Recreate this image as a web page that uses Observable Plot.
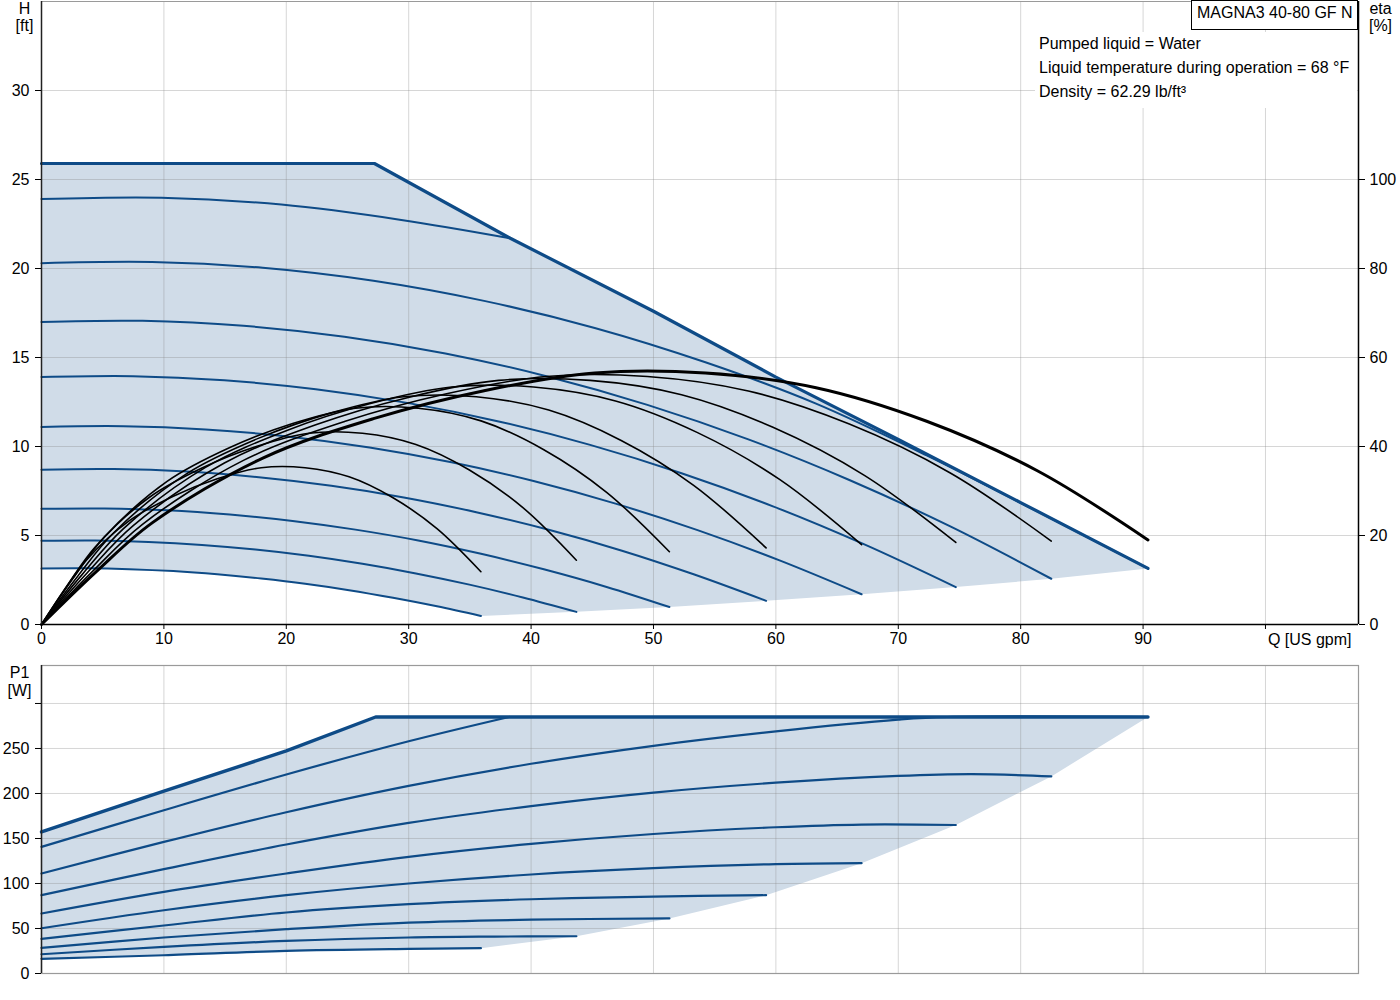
<!DOCTYPE html>
<html>
<head>
<meta charset="utf-8">
<script src="https://cdn.jsdelivr.net/npm/d3@7"></script>
<script src="https://cdn.jsdelivr.net/npm/@observablehq/plot@0.6"></script>
<style>
  body { margin: 0; background: #fff; }
  #wrap { position: relative; width: 1400px; height: 1000px; font-family: "Liberation Sans", Arial, sans-serif; color: #000; }
  #top, #bottom { position: absolute; left: 0; }
  #top { top: 0; }
  #bottom { top: 660px; }
  .box { position: absolute; background: #fff; font-size: 16px; white-space: nowrap; }
  #title { left: 1191px; top: 0; width: 160px; height: 28px; border: 1px solid #000; padding-left: 5px; line-height: 24px; }
  #info { left: 1035px; top: 32px; width: 318px; height: 76px; padding-left: 4px; line-height: 24px; }
</style>
</head>
<body>
<div id="wrap">
  <div id="top"></div>
  <div id="bottom"></div>
  <div class="box" id="title">MAGNA3 40-80 GF N</div>
  <div class="box" id="info">Pumped liquid = Water<br>Liquid temperature during operation = 68 °F<br>Density = 62.29 lb/ft³</div>
</div>
<script>
// ---------- axis ticks ----------
const qTicks = [0, 10, 20, 30, 40, 50, 60, 70, 80, 90, 100];
const qGrid = [10, 20, 30, 40, 50, 60, 70, 80, 90, 100];
const hTicks = [0, 5, 10, 15, 20, 25, 30];
const hGrid = [5, 10, 15, 20, 25, 30];
const etaTicks = [0, 20, 40, 60, 80, 100];
const pTicks = [0, 50, 100, 150, 200, 250, 300];
const pGrid = [50, 100, 150, 200, 250, 300];

// ---------- head curves H [ft] vs Q [US gpm] ----------
const hMax = [[0,25.9],[27.2,25.9],[38.3,21.7],[50,17.6],[60,13.9],[70,10.4],[80,6.85],[90.4,3.15]];
const h1 = [[0,23.9],[9.8,23.98],[19.6,23.59],[29.4,22.73],[38.3,21.7]];
const h2 = [[0,20.3],[9.04,20.37],[18.08,20.04],[27.12,19.31],[36.16,18.18],[45.2,16.66],[54.24,14.73],[63.28,12.41],[72.32,9.5],[81.36,6.35],[90.4,3.15]];
const h3 = [[0,17.0],[8.25,17.06],[16.5,16.78],[24.75,16.17],[33.0,15.23],[41.25,13.95],[49.5,12.34],[57.75,10.4],[66.0,8.12],[74.25,5.51],[82.5,2.57]];
const h4 = [[0,13.9],[7.47,13.95],[14.94,13.72],[22.41,13.22],[29.88,12.45],[37.35,11.41],[44.82,10.09],[52.29,8.5],[59.76,6.64],[67.23,4.5],[74.7,2.1]];
const h5 = [[0,11.1],[6.7,11.14],[13.4,10.96],[20.1,10.56],[26.8,9.94],[33.5,9.11],[40.2,8.06],[46.9,6.79],[53.6,5.3],[60.3,3.6],[67.0,1.7]];
const h6 = [[0,8.7],[5.92,8.73],[11.84,8.59],[17.76,8.27],[23.68,7.79],[29.6,7.14],[35.52,6.31],[41.44,5.32],[47.36,4.16],[53.28,2.82],[59.2,1.33]];
const h7 = [[0,6.5],[5.13,6.52],[10.26,6.42],[15.39,6.18],[20.52,5.82],[25.65,5.33],[30.78,4.72],[35.91,3.97],[41.04,3.1],[46.17,2.11],[51.3,0.98]];
const h8 = [[0,4.7],[4.37,4.72],[8.74,4.64],[13.11,4.47],[17.48,4.21],[21.85,3.86],[26.22,3.41],[30.59,2.87],[34.96,2.24],[39.33,1.52],[43.7,0.71]];
const h9 = [[0,3.15],[3.59,3.16],[7.18,3.11],[10.77,3.0],[14.36,2.82],[17.95,2.58],[21.54,2.29],[25.13,1.93],[28.72,1.5],[32.31,1.02],[35.9,0.48]];

// ---------- efficiency curves eta [%] vs Q ----------
const e2 = [[0,0],[4.52,11.99],[9.04,22.84],[18.08,37.4],[27.12,46.25],[36.16,52.53],[45.2,56.53],[54.24,56.53],[63.28,53.22],[72.32,45.68],[81.36,34.55],[90.4,19.01]];
const e3 = [[0,0],[4.13,11.82],[8.25,22.52],[16.5,36.88],[24.75,45.6],[33.0,51.8],[41.25,55.74],[49.5,55.74],[57.75,52.47],[66.0,45.04],[74.25,34.06],[82.5,18.75]];
const e4 = [[0,0],[3.74,11.63],[7.47,22.16],[14.94,36.29],[22.41,44.87],[29.88,50.97],[37.35,54.85],[44.82,54.85],[52.29,51.63],[59.76,44.32],[67.23,33.52],[74.7,18.45]];
const e5 = [[0,0],[3.35,11.32],[6.7,21.56],[13.4,35.3],[20.1,43.66],[26.8,49.59],[33.5,53.36],[40.2,53.36],[46.9,50.23],[53.6,43.12],[60.3,32.61],[67.0,17.95]];
const e6 = [[0,0],[2.96,10.86],[5.92,20.68],[11.84,33.86],[17.76,41.88],[23.68,47.56],[29.6,51.18],[35.52,51.18],[41.44,48.18],[47.36,41.36],[53.28,31.28],[59.2,17.22]];
const e7 = [[0,0],[2.57,10.31],[5.13,19.64],[10.26,32.16],[15.39,39.77],[20.52,45.17],[25.65,48.61],[30.78,48.61],[35.91,45.76],[41.04,39.28],[46.17,29.71],[51.3,16.35]];
const e8 = [[0,0],[2.19,9.11],[4.37,17.36],[8.74,28.43],[13.11,35.15],[17.48,39.93],[21.85,42.97],[26.22,42.97],[30.59,40.45],[34.96,34.72],[39.33,26.26],[43.7,14.45]];
const e9 = [[0,0],[1.8,7.48],[3.59,14.24],[7.18,23.32],[10.77,28.84],[14.36,32.75],[17.95,35.24],[21.54,35.24],[25.13,33.18],[28.72,28.48],[32.31,21.54],[35.9,11.85]];

// ---------- power curves P1 [W] vs Q ----------
const pMax = [[0,157.3],[10,202.6],[20,247.3],[27.3,285],[90.4,285]];
const p1 = [[0,140.7],[10,181.4],[20,221.1],[30,258],[38.2,285]];
const p2 = [[0,111.1],[10,146.2],[20,179.2],[30,208.5],[40,233],[50,253],[60,269],[70,282],[74,285],[90.4,285]];
const p3 = [[0,87],[10,115.9],[20,143.3],[30,167.3],[40,186],[50,201],[60,212],[70,219.5],[76,221.5],[82.5,219]];
const p4 = [[0,66.7],[10,90.7],[20,111.1],[30,129.6],[40,144],[50,155],[60,162.5],[67,165.5],[74.7,165]];
const p5 = [[0,50.3],[10,70.3],[20,87],[30,100],[40,110],[50,117],[60,121.5],[67,122.6]];
const p6 = [[0,38.5],[10,53.3],[20,67.8],[30,77],[40,82.5],[50,85.5],[59.2,87]];
const p7 = [[0,28.5],[10,40],[20,49.2],[30,56.5],[40,59.8],[51.3,61.2]];
const p8 = [[0,21.4],[10,29.6],[20,36.2],[30,40],[37,41],[43.7,41.4]];
const p9 = [[0,16.3],[10,20.3],[20,25.1],[30,27.3],[35.9,28.1]];

// ---------- derived ----------
const last = c => c[c.length - 1];
const hArea = [...hMax, ...[h3, h4, h5, h6, h7, h8].map(last), ...h9.slice().reverse()];
const pArea = [...pMax, ...[p3, p4, p5, p6, p7, p8].map(last), ...p9.slice().reverse()];
const hCurves = [h1, h2, h3, h4, h5, h6, h7, h8, h9];
const eCurves = [e3, e4, e5, e6, e7, e8, e9];
const pCurves = [p1, p2, p3, p4, p5, p6, p7, p8, p9];

const BLUE = "#0e4b87";
const SHADE = "#d0dce8";
const GRID = "#8a8a8a";
const FONT = "'Liberation Sans', Arial, sans-serif";
const X = d => d[0];
const Y = d => d[1];
const ETA = d => d[1] / 4;   // eta 100 % <-> 25 ft on the shared y scale
const xDomain = [0, 107.6];
const label = (t, anchor, dx, dy, textAnchor = "middle") =>
  Plot.text([t], {text: d => d, frameAnchor: anchor, dx, dy, textAnchor, lineAnchor: "middle"});

const topPlot = Plot.plot({
  width: 1400, height: 661,
  marginLeft: 41, marginRight: 42, marginTop: 1, marginBottom: 37,
  x: {domain: xDomain},
  y: {domain: [0, 35]},
  style: {fontFamily: FONT, fontSize: "16px", color: "#000", background: "transparent", overflow: "visible"},
  marks: [
    Plot.line(hArea, {x: X, y: Y, fill: SHADE, stroke: "none", curve: "linear"}),
    Plot.gridX(qGrid, {stroke: GRID, strokeOpacity: 0.35}),
    Plot.gridY(hGrid, {stroke: GRID, strokeOpacity: 0.35}),
    Plot.ruleY([35], {stroke: "#9a9a9a", strokeWidth: 1}),
    ...hCurves.map(c => Plot.line(c, {x: X, y: Y, stroke: BLUE, strokeWidth: 2, curve: "catmull-rom"})),
    Plot.line(hMax, {x: X, y: Y, stroke: BLUE, strokeWidth: 3.2, curve: "linear"}),
    ...eCurves.map(c => Plot.line(c, {x: X, y: ETA, stroke: "#000", strokeWidth: 1.6, curve: "catmull-rom"})),
    Plot.line(e2, {x: X, y: ETA, stroke: "#000", strokeWidth: 3, curve: "catmull-rom"}),
    Plot.ruleX([0], {stroke: "#222", strokeWidth: 1.5}),
    Plot.ruleX([xDomain[1]], {stroke: "#000", strokeWidth: 1.5}),
    Plot.ruleY([0], {stroke: "#000", strokeWidth: 1.5}),
    Plot.axisX({ticks: qTicks, tickFormat: d => d === 100 ? "" : d, tickSize: 5, tickPadding: 3, label: null, anchor: "bottom"}),
    Plot.axisY({ticks: hTicks, tickSize: 6, tickPadding: 6, label: null, anchor: "left"}),
    Plot.axisY({ticks: etaTicks.map(e => e / 4), tickFormat: d => d * 4, tickSize: 6, tickPadding: 5, label: null, anchor: "right"}),
    label("H", "top-left", -17, 7),
    label("[ft]", "top-left", -17, 24),
    label("eta", "top-right", 22, 7),
    label("[%]", "top-right", 22, 24),
    label("Q [US gpm]", "bottom-right", -7, 15, "end")
  ]
});
document.getElementById("top").appendChild(topPlot);

const bottomPlot = Plot.plot({
  width: 1400, height: 340,
  marginLeft: 41, marginRight: 42, marginTop: 5, marginBottom: 27,
  x: {domain: xDomain, axis: null},
  y: {domain: [0, 342.2]},
  style: {fontFamily: FONT, fontSize: "16px", color: "#000", background: "transparent", overflow: "visible"},
  marks: [
    Plot.line(pArea, {x: X, y: Y, fill: SHADE, stroke: "none", curve: "linear"}),
    Plot.gridX(qGrid, {stroke: GRID, strokeOpacity: 0.35}),
    Plot.gridY(pGrid, {stroke: GRID, strokeOpacity: 0.35}),
    Plot.frame({stroke: "#9a9a9a", strokeWidth: 1.2}),
    ...pCurves.map(c => Plot.line(c, {x: X, y: Y, stroke: BLUE, strokeWidth: 2.2, curve: "catmull-rom"})),
    Plot.line(pMax, {x: X, y: Y, stroke: BLUE, strokeWidth: 3.4, curve: "linear"}),
    Plot.ruleX([0], {stroke: "#222", strokeWidth: 1.5}),
    Plot.axisY({ticks: pTicks, tickFormat: d => d === 300 ? "" : d, tickSize: 6, tickPadding: 6, label: null, anchor: "left"}),
    label("P1", "top-left", -22, 7),
    label("[W]", "top-left", -22, 25)
  ]
});
document.getElementById("bottom").appendChild(bottomPlot);
</script>
</body>
</html>
